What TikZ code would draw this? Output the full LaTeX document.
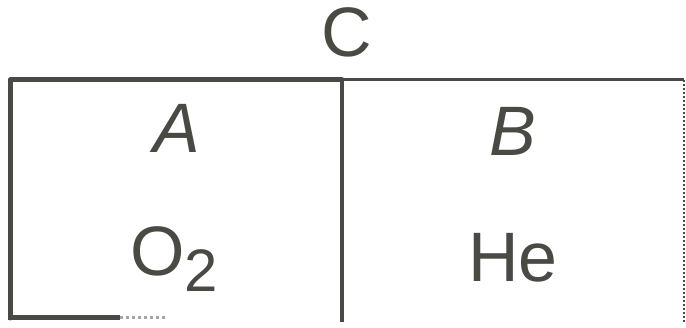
\documentclass[tikz,border=0pt]{standalone}
\usepackage{fontspec}
\setmainfont{Liberation Sans}
\definecolor{ink}{HTML}{4A4A44}
\begin{document}
\begin{tikzpicture}[x=1pt,y=-1pt,
  lbl/.style={inner sep=0pt,text=ink,font=\fontsize{70}{70}\selectfont},
  wall/.style={draw=ink,line width=5pt},
  thinwall/.style={draw=ink,line width=3pt},
  open/.style={draw=ink,line width=1.8pt,dash pattern=on 2pt off 2pt}]
\useasboundingbox (0,0) rectangle (686,328);
% container walls
\draw[wall,line cap=round,line join=round] (10,318) -- (10,80) -- (342,80);
\draw[thinwall] (342,80) -- (684,80);
\draw[wall] (8,318) -- (120,318);
\draw[draw=ink!50,line width=3pt,dash pattern=on 3pt off 3pt] (120,318) -- (166,318);
\draw[draw=ink,line width=4pt] (342,80) -- (342,322);
\draw[open] (684,80) -- (684,322);
% labels
\node[lbl] (c) at (347,32) {C};
\node[lbl] (a) at (177,128) {\itshape A};
\node[lbl] (b) at (513,131) {\itshape B};
\node[lbl,anchor=base] (o2) at (174,276) {O\raisebox{-16pt}{\fontsize{60}{60}\selectfont 2}};
\node[lbl,anchor=base] (he) at (513,282) {He};
\end{tikzpicture}
\end{document}
